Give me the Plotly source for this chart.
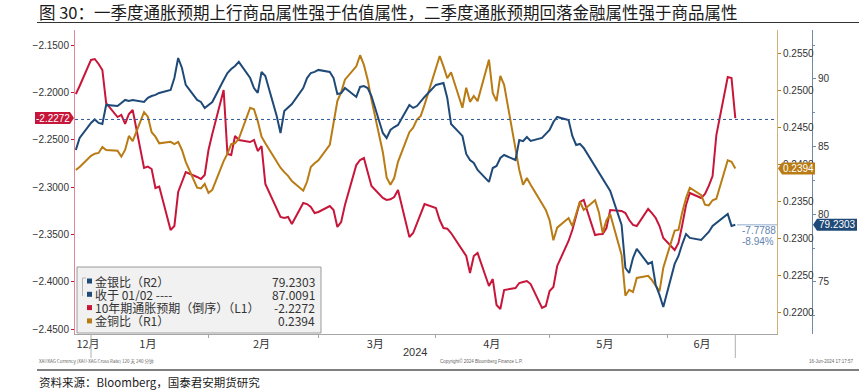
import pandas as pd
import plotly.graph_objects as go

# ---------------- data ----------------
dates = pd.bdate_range("2023-12-28", "2024-06-19")  # trading days shown

# 10年期通胀预期（倒序） (L1)
infl_inv = [
    -2.2018, -2.1933,
    -2.1658, -2.1648, -2.1701, -2.1764, -2.2113, -2.2261, -2.2239, -2.2334, -2.2229, -2.2187,
    -2.2799, -2.2785, -2.2810, -2.3011, -2.2995, -2.3454, -2.3412, -2.3053, -2.2947, -2.2842,
    -2.2894, -2.2915, -2.2873,
    -2.2609, -2.2440, -2.1975, -2.2651, -2.2662, -2.2461, -2.2503, -2.2525, -2.2503, -2.2620,
    -2.2567, -2.2968, -2.3243, -2.3317, -2.3327, -2.3317, -2.3391, -2.3169, -2.3180, -2.3211, -2.3275,
    -2.3264, -2.3201, -2.3243, -2.3422, -2.3370, -2.3190, -2.2768, -2.2715, -2.2694, -2.2842,
    -2.2989, -2.3116, -2.3137, -2.3130, -2.3106, -2.3032, -2.3528, -2.3486, -2.3380, -2.3285, -2.3180,
    -2.3222, -2.3349, -2.3433, -2.3440, -2.3486, -2.3665, -2.3729, -2.3908, -2.3729, -2.3697,
    -2.4046, -2.3972, -2.4246, -2.4289, -2.4088, -2.4067, -2.4014, -2.4003, -2.3993, -2.4025,
    -2.4278, -2.4257,
    -2.4098, -2.4056, -2.3834, -2.3570, -2.3454, -2.3306, -2.3158, -2.3137, -2.3507, -2.3500,
    -2.3496, -2.3433, -2.3243, -2.3253, -2.3275, -2.3349, -2.3401, -2.3412, -2.3232, -2.3275,
    -2.3327, -2.3412, -2.3539,
    -2.3665, -2.3591, -2.3401, -2.3190, -2.3063, -2.3116, -2.3074, -2.2989, -2.2884, -2.2451,
    -2.1838, -2.1849, -2.2272,
]

# 金银比 (R2)
gold_silver = [
    84.75, 85.64,
    86.75, 87.0091, 86.75, 86.67, 88.08, 88.00, 88.23, 88.45, 88.37, 88.45, 88.30, 88.60,
    88.74, 88.82, 88.97, 89.19, 90.07, 91.55, 90.81, 89.56, 88.45, 88.30, 87.86,
    88.08, 88.30, 89.93, 90.44, 90.74, 90.96, 91.26, 90.07, 89.33, 88.97, 90.52, 90.22,
    87.27, 86.01, 87.63, 87.86, 88.15, 89.33, 90.07, 90.44, 90.52,
    90.67, 90.52, 90.07, 88.89, 88.95, 89.33, 88.67, 89.41, 89.48, 89.33, 88.74, 86.01,
    85.64, 86.23, 86.45, 86.60, 88.08, 87.86, 88.00, 88.37, 88.67,
    89.56, 89.63, 89.70, 88.60, 86.67, 85.79, 84.46, 84.01, 83.79, 83.27, 82.39, 83.42,
    83.57, 84.16, 84.38, 84.01, 85.49, 85.40, 85.71, 85.42, 85.64, 85.94,
    86.23, 86.82, 87.19, 86.97, 85.79, 85.12, 85.20, 84.90, 83.57, 83.13, 82.68, 82.24,
    81.72, 79.21, 76.03, 75.66, 76.77, 77.44, 76.33, 76.47, 74.77, 74.04, 73.15,
    76.33, 76.92, 77.80, 78.54, 78.25, 78.10, 78.40, 78.69, 79.14, 79.36, 80.02, 79.14, 79.2303,
]

# 金铜比 (R1)
gold_copper = [
    0.2392, 0.2396,
    0.2411, 0.2414, 0.2415, 0.2423, 0.2419, 0.2418, 0.2410, 0.2419, 0.2438, 0.2431, 0.2470,
    0.2464, 0.2443, 0.2437, 0.2428, 0.2430, 0.2427, 0.2430, 0.2419, 0.2403, 0.2368, 0.2367, 0.2373,
    0.2361, 0.2365, 0.2404, 0.2414, 0.2427, 0.2428, 0.2434, 0.2476, 0.2474, 0.2458, 0.2437,
    0.2428, 0.2403, 0.2395, 0.2389, 0.2384, 0.2377, 0.2364, 0.2376, 0.2396, 0.2401,
    0.2405, 0.2426, 0.2454, 0.2485, 0.2497, 0.2514, 0.2532, 0.2547, 0.2534, 0.2514, 0.2487,
    0.2416, 0.2382, 0.2372, 0.2381, 0.2403, 0.2443, 0.2449, 0.2460, 0.2465, 0.2480,
    0.2532, 0.2546, 0.2532, 0.2516, 0.2524, 0.2476, 0.2503, 0.2484, 0.2492, 0.2485, 0.2541,
    0.2496, 0.2485, 0.2519, 0.2507, 0.2423, 0.2392, 0.2372, 0.2381, 0.2372, 0.2347, 0.2338,
    0.2324, 0.2297, 0.2314, 0.2327, 0.2316, 0.2331, 0.2349, 0.2338, 0.2351, 0.2335, 0.2307,
    0.2324, 0.2332, 0.2277, 0.2222, 0.2230, 0.2227, 0.2246, 0.2249, 0.2243, 0.2235, 0.2228, 0.2260,
    0.2310, 0.2311, 0.2335, 0.2354, 0.2368, 0.2358, 0.2345, 0.2344, 0.2351, 0.2353, 0.2405,
    0.2403, 0.2394,
]

close_0102 = 87.0091
chg_abs, chg_pct = -7.7788, "-8.94%"

month_labels = ["12月", "1月", "2月", "3月", "4月", "5月", "6月"]
month_label_pos = ["2023-12-31 05:00", "2024-01-16", "2024-02-15", "2024-03-16",
                   "2024-04-15 18:00", "2024-05-15 14:00", "2024-06-10 05:00"]
month_starts = ["2024-02-01", "2024-03-01", "2024-04-01", "2024-05-01", "2024-06-01"]

left_ticks = [-2.45, -2.40, -2.35, -2.30, -2.25, -2.20, -2.15]
r1_ticks = [0.2200, 0.2250, 0.2300, 0.2350, 0.2400, 0.2450, 0.2500, 0.2550]
r2_ticks = [75, 80, 85, 90]

# ---------------- style ----------------
C_BLUE = "#1f4a78"
C_RED = "#c8163a"
C_GOLD = "#b97b14"
W, H = 859, 391
L, R, T, B = 75, 0, 30, 57
PW, PH = W - L - R, H - T - B
XEND = (777 - L) / PW
R2POS = (812 - L) / PW
FONT_CJK = "Noto Sans CJK SC"
FONT_NUM = "Liberation Sans"


def px(x):
    return (x - L) / PW


def py(y):
    return (H - B - y) / PH


fig = go.Figure()
fig.add_trace(go.Scatter(x=dates, y=gold_copper, yaxis="y2", mode="lines",
                         line=dict(color=C_GOLD, width=2), name="金铜比（R1）"))
fig.add_trace(go.Scatter(x=dates, y=gold_silver, yaxis="y3", mode="lines",
                         line=dict(color=C_BLUE, width=2), name="金银比（R2）"))
fig.add_trace(go.Scatter(x=dates, y=infl_inv, yaxis="y", mode="lines",
                         line=dict(color=C_RED, width=2), name="10年期通胀预期（倒序）（L1）"))

fig.update_layout(
    width=W, height=H, margin=dict(l=L, r=R, t=T, b=B),
    paper_bgcolor="white", plot_bgcolor="white", showlegend=False,
    xaxis=dict(domain=[0, XEND], range=["2023-12-27 18:40", "2024-06-30"],
               showgrid=False, zeroline=False, showline=True, linecolor="#a6a6a6",
               tickmode="array", tickvals=month_label_pos, ticktext=month_labels,
               ticks="", ticklen=0,
               tickfont=dict(family=FONT_CJK, size=11, color="#333"),
               minor=dict(tickmode="array", tickvals=month_starts, ticks="outside",
                          ticklen=3, tickcolor="#a6a6a6", showgrid=False)),
    yaxis=dict(range=[-2.45527, -2.13416], tickvals=left_ticks, tickformat=".4f",
               showgrid=False, zeroline=False, showline=True, linecolor="#e08898",
               ticks="outside", ticklen=3, tickcolor=C_RED,
               tickfont=dict(family=FONT_NUM, size=10, color="#333")),
    yaxis2=dict(range=[0.21703, 0.25811], tickvals=r1_ticks, tickformat=".4f",
                overlaying="y", side="right", anchor="x",
                showgrid=False, zeroline=False, showline=True, linecolor="#d2b07a",
                ticks="outside", ticklen=3, tickcolor=C_GOLD,
                tickfont=dict(family=FONT_NUM, size=10, color="#333")),
    yaxis3=dict(range=[71.15, 93.62], tickvals=r2_ticks,
                overlaying="y", side="right", anchor="free", position=R2POS,
                showgrid=False, zeroline=False, showline=True, linecolor="#6f8aa8",
                ticks="outside", ticklen=3, tickcolor="#6f8aa8",
                minor=dict(dtick=2.5, tick0=0, ticks="outside", ticklen=2, tickcolor="#6f8aa8"),
                tickfont=dict(family=FONT_NUM, size=10, color="#333")),
)

shapes = []
annos = []

# close on 01/02 dotted line
shapes.append(dict(type="line", xref="paper", yref="y3", x0=0, x1=XEND,
                   y0=close_0102, y1=close_0102,
                   line=dict(color="#2f5597", width=1, dash="dot")))
# last-value guide for 金银比
shapes.append(dict(type="line", xref="paper", yref="y3", x0=px(737), x1=XEND,
                   y0=gold_silver[-1], y1=gold_silver[-1],
                   line=dict(color="#b7c8de", width=1.5)))
annos.append(dict(xref="paper", yref="paper", x=px(741), y=py(230), text=f"{chg_abs:.4f}",
                  showarrow=False, xanchor="left", yanchor="middle", borderpad=0, height=11,
                  font=dict(family=FONT_NUM, size=10, color="#5f84b0")))
annos.append(dict(xref="paper", yref="paper", x=px(741), y=py(241), text=chg_pct,
                  showarrow=False, xanchor="left", yanchor="middle", borderpad=0, height=11,
                  font=dict(family=FONT_NUM, size=10, color="#5f84b0")))

# value tags on axes
shapes.append(dict(type="path", xref="paper", yref="y", xsizemode="pixel", ysizemode="pixel",
                   xanchor=0, yanchor=infl_inv[-1],
                   path="M -40,-6 L -5,-6 L -1,0 L -5,6 L -40,6 Z",
                   fillcolor=C_RED, line=dict(width=0)))
annos.append(dict(xref="paper", yref="y", x=0, y=infl_inv[-1], xshift=-22, text=f"{infl_inv[-1]:.4f}",
                  showarrow=False, xanchor="center", yanchor="middle", borderpad=0, height=11,
                  font=dict(family=FONT_NUM, size=10, color="white")))
shapes.append(dict(type="path", xref="paper", yref="y2", xsizemode="pixel", ysizemode="pixel",
                   xanchor=XEND, yanchor=gold_copper[-1],
                   path="M 1,0 L 5,-6 L 38,-6 L 38,6 L 5,6 Z",
                   fillcolor=C_GOLD, line=dict(width=0)))
annos.append(dict(xref="paper", yref="y2", x=XEND, y=gold_copper[-1], xshift=21, text=f"{gold_copper[-1]:.4f}",
                  showarrow=False, xanchor="center", yanchor="middle", borderpad=0, height=11,
                  font=dict(family=FONT_NUM, size=10, color="white")))
shapes.append(dict(type="path", xref="paper", yref="y3", xsizemode="pixel", ysizemode="pixel",
                   xanchor=R2POS, yanchor=gold_silver[-1],
                   path="M 1,0 L 5,-6 L 45,-6 L 45,6 L 5,6 Z",
                   fillcolor=C_BLUE, line=dict(width=0)))
annos.append(dict(xref="paper", yref="y3", x=R2POS, y=gold_silver[-1], xshift=25, text=f"{gold_silver[-1]:.4f}",
                  showarrow=False, xanchor="center", yanchor="middle", borderpad=0, height=11,
                  font=dict(family=FONT_NUM, size=10, color="white")))

# long ticks (year start / last point)
for d in ["2024-01-01", dates[-1]]:
    shapes.append(dict(type="line", xref="x", yref="paper", x0=d, x1=d, y0=0, y1=py(358),
                       line=dict(color="#b0b0b0", width=1)))

# legend box
shapes.append(dict(type="rect", xref="paper", yref="paper", x0=px(77), x1=px(321),
                   y0=py(333), y1=py(267), fillcolor="#f1f1f1",
                   line=dict(color="#9a9a9a", width=1)))
shapes.append(dict(type="path", xref="paper", yref="paper",
                   path=f"M {px(86)},{py(278)} L {px(82.5)},{py(278)} L {px(82.5)},{py(296)}",
                   line=dict(color="#b5b5b5", width=1)))
legend_rows = [
    ("金银比（R2）", f"{gold_silver[-1]:.4f}", C_BLUE),
    ("收于 01/02 ----", f"{close_0102:.4f}", C_BLUE),
    ("10年期通胀预期（倒序）（L1）", f"{infl_inv[-1]:.4f}", C_RED),
    ("金铜比（R1）", f"{gold_copper[-1]:.4f}", C_GOLD),
]
for i, (lab, val, col) in enumerate(legend_rows):
    yc = 281 + i * 13.3
    shapes.append(dict(type="rect", xref="paper", yref="paper",
                       x0=px(87), x1=px(92), y0=py(yc + 2.5), y1=py(yc - 2.5),
                       fillcolor=col, line=dict(width=0)))
    annos.append(dict(xref="paper", yref="paper", x=px(94), y=py(yc), text=lab,
                      showarrow=False, xanchor="left", yanchor="middle", borderpad=0, height=13,
                      font=dict(family=FONT_CJK, size=12, color="#333")))
    annos.append(dict(xref="paper", yref="paper", x=px(316), y=py(yc), text=val,
                      showarrow=False, xanchor="right", yanchor="middle", borderpad=0, height=13,
                      font=dict(family=FONT_CJK, size=12, color="#333")))

# title + rule
annos.append(dict(xref="paper", yref="paper", x=px(38), y=py(11.5),
                  text="图 30：一季度通胀预期上行商品属性强于估值属性，二季度通胀预期回落金融属性强于商品属性",
                  showarrow=False, xanchor="left", yanchor="middle", borderpad=0, height=19,
                  font=dict(family=FONT_CJK, size=16.5, color="#1a1a1a")))
shapes.append(dict(type="line", xref="paper", yref="paper", x0=px(37), x1=px(859),
                   y0=py(22.5), y1=py(22.5), line=dict(color="#333", width=1)))

# year label and Bloomberg footer
annos.append(dict(xref="paper", yref="paper", x=px(415), y=py(352), text="2024",
                  showarrow=False, xanchor="center", yanchor="middle",
                  font=dict(family=FONT_NUM, size=11, color="#333")))
annos.append(dict(xref="paper", yref="paper", x=px(37), y=py(361),
                  text="XAUXAG Currency (XAU-XAG Cross Rate) 120 天 240 分钟",
                  showarrow=False, xanchor="left", yanchor="middle",
                  font=dict(family=FONT_CJK, size=4.5, color="#666")))
annos.append(dict(xref="paper", yref="paper", x=px(481), y=py(361),
                  text="Copyright© 2024 Bloomberg Finance L.P.",
                  showarrow=False, xanchor="center", yanchor="middle",
                  font=dict(family=FONT_NUM, size=4.5, color="#666")))
annos.append(dict(xref="paper", yref="paper", x=px(856), y=py(361),
                  text="16-Jun-2024 17:17:57",
                  showarrow=False, xanchor="right", yanchor="middle",
                  font=dict(family=FONT_NUM, size=4.5, color="#666")))
shapes.append(dict(type="line", xref="paper", yref="paper", x0=px(37), x1=px(859),
                   y0=py(370), y1=py(370), line=dict(color="#7f7f7f", width=2)))
annos.append(dict(xref="paper", yref="paper", x=px(37), y=py(381.5),
                  text="资料来源：Bloomberg，国泰君安期货研究",
                  showarrow=False, xanchor="left", yanchor="middle",
                  font=dict(family=FONT_CJK, size=11.5, color="#1a1a1a")))

fig.update_layout(shapes=shapes, annotations=annos)
fig.write_html("out.html", config={"displayModeBar": False},
               post_script="document.body.style.margin='0';document.body.style.overflow='hidden';")
